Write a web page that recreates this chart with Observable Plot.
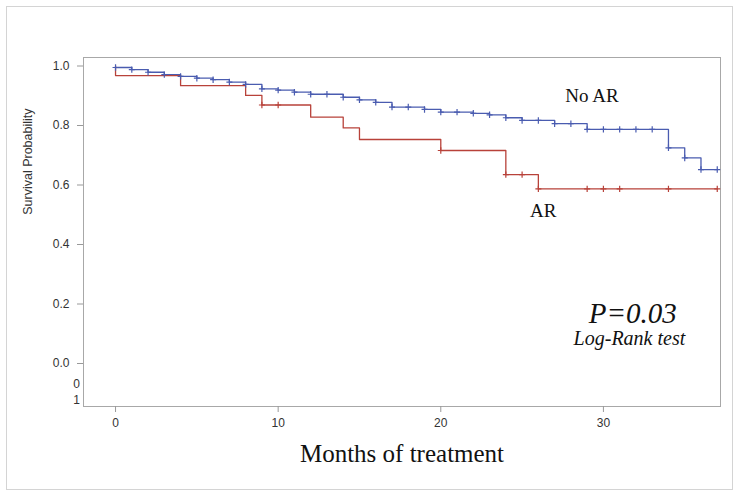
<!DOCTYPE html>
<html><head><meta charset="utf-8">
<script src="https://cdn.jsdelivr.net/npm/d3@7"></script>
<script src="https://cdn.jsdelivr.net/npm/@observablehq/plot@0.6"></script>
<style>
html,body{margin:0;padding:0;background:#fff;}
#wrap{position:relative;width:739px;height:496px;overflow:hidden;}
#border{position:absolute;left:6px;top:6px;width:725px;height:482px;border:1px solid #d4d4d4;}
#chart{position:absolute;left:0;top:0;}
</style></head><body>
<div id="wrap"><div id="border"></div><div id="chart"></div></div>
<script>
// ---- data ----
const noArTimes = [0,1,2,3,4,5,6,7,8,9,10,11,12,14,15,16,17,19,20,22,23,24,25,27,29,34,35,36,37];
const noArSurv  = [0.995,0.988,0.979,0.971,0.965,0.959,0.954,0.946,0.938,0.923,0.919,0.912,0.905,0.895,0.886,0.878,0.862,0.854,0.845,0.841,0.836,0.826,0.817,0.806,0.787,0.725,0.691,0.652,0.652];
const noArCensor = [0,1,2,3,4,5,6,7,8,9,10,11,12,13,14,15,16,17,18,19,20,21,22,23,24,25,26,27,28,29,30,31,32,33,34,35,36,37];

const arTimes = [0,0,4,8,9,12,14,15,20,24,26,37];
const arSurv  = [1.0,0.968,0.934,0.901,0.869,0.828,0.792,0.753,0.716,0.635,0.587,0.587];
const arCensor = [9,10,20,24,25,26,29,30,31,34,37];

const xTicks = [0,10,20,30];
const yTicks = [0,0.2,0.4,0.6,0.8,1.0];
const xTitle = "Months of treatment";
const yTitle = "Survival Probability";
const seriesNames = ["No AR","AR"];
const seriesLabelX = [29.3,26.3];
const seriesLabelY = [0.90,0.514];
const pText = "P=0.03";
const testText = "Log-Rank test";
const oddLabels = ["0","1"];
const oddLabelY = [-0.07,-0.124];

// ---- build ----
const blue = "#4a5cb0", red = "#b8423a";
const sans = "'Liberation Sans', Arial, sans-serif";
const serif = "'Liberation Serif', 'Times New Roman', serif";

const noAr = noArTimes.map((t,i)=>({t, s:noArSurv[i]}));
const ar = arTimes.map((t,i)=>({t, s:arSurv[i]}));
function survAt(series, t){ let s = series[0].s; for (const d of series) if (d.t <= t) s = d.s; return s; }
const noArC = noArCensor.map(t=>({t, s:survAt(noAr,t)}));
const arC = arCensor.map(t=>({t, s:survAt(ar,t)}));

const plusSym = {draw(ctx){ ctx.moveTo(-3,0); ctx.lineTo(3,0); ctx.moveTo(0,-3.2); ctx.lineTo(0,3.2); }};

const chart = Plot.plot({
  width: 739, height: 496,
  marginLeft: 83, marginTop: 57, marginRight: 19, marginBottom: 90,
  style: {background: "transparent", fontFamily: sans},
  x: {domain: [-1.97, 37.2]},
  y: {domain: [-0.1445, 1.0286]},
  marks: [
    Plot.frame({stroke: "#a8a8a8"}),
    Plot.axisY({ticks: yTicks, tickFormat: d3.format(".1f"), tickSize: 6, tickPadding: 8, stroke: "#999", fill: "#333", fontSize: 12, fontFamily: sans, label: null}),
    Plot.axisX({ticks: xTicks, tickSize: 6, tickPadding: 6, stroke: "#999", fill: "#333", fontSize: 12, fontFamily: sans, label: null}),
    Plot.line(noAr, {x: "t", y: "s", curve: "step-after", stroke: blue, strokeWidth: 1.3}),
    Plot.line(ar, {x: "t", y: "s", curve: "step-after", stroke: red, strokeWidth: 1.3}),
    Plot.dot(noArC, {x: "t", y: "s", symbol: plusSym, stroke: blue, strokeWidth: 1.2, r: 3}),
    Plot.dot(arC, {x: "t", y: "s", symbol: plusSym, stroke: red, strokeWidth: 1.2, r: 3}),
    Plot.text(seriesNames, {x: (d,i)=>seriesLabelX[i], y: (d,i)=>seriesLabelY[i], text: d=>d, fontFamily: serif, fontSize: 19, fill: "#111"}),
    Plot.text([pText], {x: [31.8], y: [0.169], text: d=>d, fontFamily: serif, fontStyle: "italic", fontSize: 29, fill: "#111"}),
    Plot.text([testText], {x: [31.6], y: [0.083], text: d=>d, fontFamily: serif, fontStyle: "italic", fontSize: 20, fill: "#111"}),
    Plot.text(oddLabels, {frameAnchor: "left", y: (d,i)=>oddLabelY[i], text: d=>d, dx: -7, textAnchor: "middle", fontSize: 12, fontFamily: sans, fill: "#333"}),
    Plot.text([yTitle], {frameAnchor: "left", y: [0.5], text: d=>d, dx: -56, rotate: -90, fontSize: 12.5, fontFamily: sans, fill: "#333"}),
    Plot.text([xTitle], {frameAnchor: "bottom", text: d=>d, dy: 55, fontSize: 25, fontFamily: serif, fill: "#111"})
  ]
});
document.getElementById("chart").appendChild(chart);
</script>
</body></html>
